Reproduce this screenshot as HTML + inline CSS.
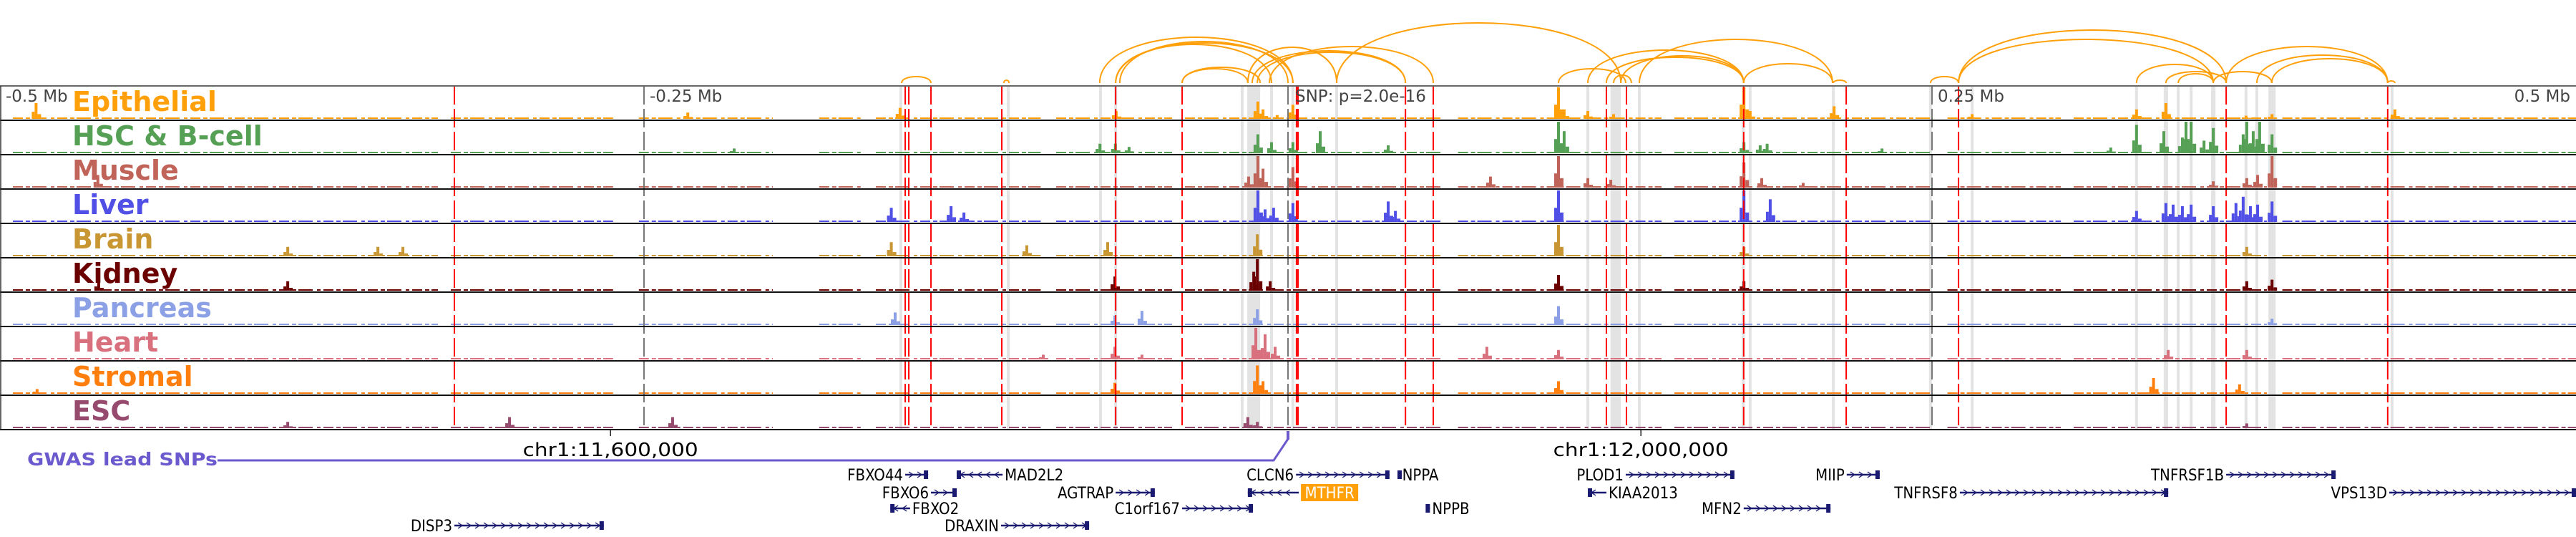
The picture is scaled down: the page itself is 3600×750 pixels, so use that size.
<!DOCTYPE html>
<html><head><meta charset="utf-8">
<style>
html,body{margin:0;padding:0;background:#fff;}
svg{display:block;}
text{font-family:"DejaVu Sans","Liberation Sans",sans-serif;}
</style></head>
<body>
<svg id="chart" width="3600" height="750" viewBox="0 0 3600 750" xmlns="http://www.w3.org/2000/svg">
<g id="bands"></g>
<g id="tracks"></g>
<g id="vlines"></g>
<g id="arcs"></g>
<g id="frame"></g>
<g id="labels"></g>
<g id="genes"></g>
</svg>
<script>
// ---- data (genomic offsets in kb relative to lead SNP) ----
const trackNames = ["Epithelial","HSC & B-cell","Muscle","Liver","Brain","Kidney","Pancreas","Heart","Stromal","ESC"];
const trackColors = ["#FFA00A","#55A055","#C0645A","#5050E6","#C89632","#6B0000","#8CA0E6","#D8707E","#FF7F0E","#964B6E"];
const tickValues = [-500,-250,0,250,500];
const tickLabels = ["-0.5 Mb","-0.25 Mb","","0.25 Mb","0.5 Mb"];
const snpLines = [-323.6,-148.6,-147.2,-138.6,-111.1,-66.9,-41.1,3.3,3.9,45.6,56.4,123.6,131.4,176.9,216.7,260.3,364.2,426.9];
const bandPos = [-150.3,-108.6,-72.8,-66.9,-17.8,-13.3,-6.4,1.9,18.9,116.4,127.2,136.4,176.7,179.4,211.7,249.4,265.6,329.4,340.8,345.6,350.6,359.2,371.9,376.1,382.0,428.6];
const bandWidthKb = [1.1,1.1,1.1,1.1,1.1,5,1.1,1.1,1.1,1.1,4,1.1,1.1,1.1,1.1,1.1,1.1,1.1,1.7,1.1,1.1,1.7,1.1,1.1,2.8,1.1];
const baseSegs = [[-495,-330],[-325,-262],[-252,-200],[-182,-165],[-160,-96],[-90,-45],[-40,60],[66,145],[150,250],[256,300],[305,380],[386,500]];
const peaksEpithelial = [[-486,.5],[-233,.2],[-150.6,.35],[-66.7,.25],[-11.7,.55],[-9.7,.3],[-4.2,.12],[1.9,.45],[105,1],[107.2,.3],[116.4,.25],[126.4,.15],[177,1],[179.4,.25],[212,.4],[265.6,.15],[329.4,.3],[340.8,.5],[371.9,.1],[382,.15],[429.7,.3]];
const peaksHSC = [[-215,.15],[-73,.3],[-67,.3],[-61.7,.2],[-11.7,.6],[-6.4,.35],[1.9,.35],[12.5,.7],[38.9,.25],[105,1],[107.2,.7],[177,.35],[183.3,.25],[186,.3],[230.6,.15],[319.4,.18],[329.4,.9],[340,.7],[347.2,.5],[348.6,1],[350.6,1],[355.6,.4],[359.2,.8],[370.8,.6],[372.2,1],[374.7,.7],[377.2,1],[382,.6]];
const peaksMuscle = [[-462,.4],[-15.3,.35],[-11.7,1],[-9.7,.6],[1.9,.65],[78.6,.35],[105,1],[116.4,.3],[125.3,.25],[177,.8],[183.9,.3],[200,.15],[359.2,.2],[372.2,.3],[376.4,.4],[382,1]];
const peaksLiver = [[-154,.45],[-130.8,.5],[-125.8,.3],[-11.7,1],[-8.9,.4],[-5.6,.45],[1.9,.6],[38.9,.65],[41.7,.35],[105,1],[177,1],[187.2,.72],[329.4,.35],[340.8,.6],[343.6,.55],[347.2,.5],[350.6,.55],[359.2,.5],[368,.6],[370.8,.8],[373.6,.5],[376.4,.55],[382,.65]];
const peaksBrain = [[-388.3,.3],[-353.3,.3],[-343.6,.3],[-154,.45],[-101.4,.35],[-70,.45],[-11.9,.7],[105,1],[177,.3],[372.2,.3]];
const peaksKidney = [[-461.7,.3],[-388.3,.3],[-67.2,.45],[-13.3,.6],[-11.9,1],[-6.9,.3],[105,.5],[177,.3],[372.2,.3],[382,.35]];
const peaksPancreas = [[-152.5,.4],[-67.2,.3],[-56.7,.45],[-11.9,.5],[105,.6],[382,.2]];
const peaksHeart = [[-95,.15],[-67.2,.4],[-56.7,.15],[-12.5,1],[-8.9,.8],[-5,.4],[77.2,.4],[105,.3],[341.7,.3],[372.2,.3]];
const peaksStromal = [[-485.6,.15],[-67.2,.35],[-11.9,.9],[-9.7,.4],[105,.4],[336,.5],[369.4,.3]];
const peaksESC = [[-388.3,.2],[-302.2,.35],[-238.9,.35],[-15.6,.35],[-11.9,.2],[372.2,.15]];
const arcStart = [-150,-110.3,-73.1,-66.9,-66.9,-65.3,-41.1,-41.1,-15.6,-13.9,-11.9,-7.2,18.9,105,116.4,123.6,129.2,136.4,176.9,126.4,249.4,260.3,260.3,329.4,340.8,345.6,359.2,364.2,376.1,381.9,211.7,426.9];
const arcEnd = [-138.6,-108.3,1.9,1.9,-6.4,0,-10.8,-15.6,18.9,45.6,45.6,56.4,129.2,131.1,176.9,176.9,176.9,211.4,211.4,133.3,260.3,364.2,359.2,359.2,364.2,359.2,381.9,426.9,426.9,426.9,216.7,429.7];
const arcHeight = [9,4,64,56,54,58,22,20,50,45,43,51,84,20,46,36,38,61,27,11,9,74,61,26,16,13,16,51,39,34,4,3];
const geneNames = ["FBXO44","MAD2L2","FBXO6","AGTRAP","FBXO2","C1orf167","DISP3","DRAXIN","CLCN6","NPPA","MTHFR","NPPB","PLOD1","KIAA2013","MFN2","MIIP","TNFRSF8","TNFRSF1B","VPS13D"];
const geneStart = [-148.6,-128.6,-138.6,-66.9,-154.4,-41.1,-323.6,-111.4,3.1,42.5,-15.6,54.3,131.1,116.4,176.9,216.9,260.8,364.2,427.5];
const geneEnd = [-139.7,-110.8,-128.6,-51.7,-146.7,-13.6,-265.6,-77.2,39.4,43.5,4.2,55.1,173.3,123.6,210.6,229.7,341.7,406.7,500];
const geneStrand = [1,-1,1,1,-1,1,1,1,1,-1,-1,1,1,-1,1,1,1,1,1];
const geneRow = [0,0,1,1,2,2,3,3,0,0,1,2,0,1,2,0,1,0,1];
const geneLabelLeft = [1,0,1,1,0,1,1,1,1,0,0,0,1,0,1,1,1,1,1];
const chrLabels = ["chr1:11,600,000","chr1:12,000,000"];
const chrPos = [-263,137];
const leadSnp = 0;

// ---- scales ----
const NS="http://www.w3.org/2000/svg";
const X = kb => 1800 + kb*3.6;
const TOP=120, TH=48;
function mk(tag, attrs, parent){const e=document.createElementNS(NS,tag);for(const k in attrs)e.setAttribute(k,attrs[k]);parent.appendChild(e);return e;}
const gBands=document.getElementById('bands'), gTracks=document.getElementById('tracks'),
 gV=document.getElementById('vlines'), gArcs=document.getElementById('arcs'),
 gFrame=document.getElementById('frame'), gLab=document.getElementById('labels'), gGenes=document.getElementById('genes');

bandPos.forEach((p,i)=>{
  const w=Math.max(4,bandWidthKb[i]*3.6);
  const r=mk('rect',{x:X(p)-w/2,y:TOP,width:w,height:TH*10,fill:'#e3e3e3'},gBands);
  
  
});

const allPeaks=[peaksEpithelial,peaksHSC,peaksMuscle,peaksLiver,peaksBrain,peaksKidney,peaksPancreas,peaksHeart,peaksStromal,peaksESC];
allPeaks.forEach((peaks,t)=>{
  const g=mk('g',{fill:trackColors[t]},gTracks);
  
  
  const base=TOP+TH*t+46;
  baseSegs.forEach(s=>{
    const l=mk('line',{x1:X(s[0]),x2:X(s[1]),y1:base-1,y2:base-1,stroke:trackColors[t],'stroke-width':2,'stroke-dasharray':'14,4,6,3,20,6,5,4'},g);
    
    
  });
  peaks.forEach(p=>{
    const h=p[1]*44;
    const r=mk('rect',{x:X(p[0])-2,y:base-h,width:4,height:h},g);
    
    
    const s=mk('rect',{x:X(p[0])-6,y:base-h*0.45,width:4,height:h*0.45},g);
    
    
    const s2=mk('rect',{x:X(p[0])+2,y:base-h*0.3,width:5,height:h*0.3},g);
    
    
  });
});

tickValues.forEach((v,i)=>{
  if(v===-500||v===500)return;
  const l=mk('line',{x1:X(v),x2:X(v),y1:TOP,y2:TOP+TH*10,stroke:'#777','stroke-width':2,'stroke-dasharray':'26,6'},gV);
  
  
});
snpLines.forEach(p=>{
  const l=mk('line',{x1:X(p),x2:X(p),y1:TOP,y2:TOP+TH*10,stroke:'#ff0000','stroke-width':2,'stroke-dasharray':'26,6'},gV);
  
  
});

arcStart.forEach((s,i)=>{
  const x1=X(s),x2=X(arcEnd[i]),c=116-arcHeight[i]*4/3;
  const p=mk('path',{d:`M${x1},116 C${x1},${c} ${x2},${c} ${x2},116`,fill:'none',stroke:'#FFA00A','stroke-width':2},gArcs);
  
  
});

for(let i=0;i<=10;i++){
  const l=mk('line',{x1:0,x2:3600,y1:TOP+TH*i,y2:TOP+TH*i,stroke:i===0?'#666':'#111','stroke-width':2},gFrame);
  
  
}
const lb=mk('line',{x1:1,x2:1,y1:TOP,y2:TOP+TH*10,stroke:'#333','stroke-width':1.5},gFrame);



tickValues.forEach((v,i)=>{
  if(!tickLabels[i])return;
  let x=X(v)+8, anchor='start';
  if(v===-500){x=8;}
  if(v===500){x=3592;anchor='end';}
  const t=mk('text',{x:x,y:TOP+22,'font-size':23,fill:'#444','text-anchor':anchor},gLab);
  t.textContent=tickLabels[i];
  
  
});
const snpT=mk('text',{x:X(leadSnp)+10,y:TOP+22,'font-size':23,fill:'#444'},gLab);
snpT.textContent='SNP: p=2.0e-16';



trackNames.forEach((n,i)=>{
  const t=mk('text',{x:101,y:TOP+TH*i+35,'font-size':38,'font-weight':'bold',fill:trackColors[i]},gLab);
  t.textContent=n;
  
  
});

const gw=mk('text',{x:38,y:650,'font-size':25,'font-weight':'bold',fill:'#6A5ACD',textLength:266,lengthAdjust:'spacingAndGlyphs'},gGenes);
gw.textContent='GWAS lead SNPs';


const gl=mk('polyline',{points:`304,643 ${X(leadSnp)-20},643 ${X(leadSnp)},613`,fill:'none',stroke:'#6A5ACD','stroke-width':3},gGenes);


const gm=mk('rect',{x:X(leadSnp)-2,y:602,width:4,height:12,fill:'#6A5ACD'},gGenes);



chrLabels.forEach((c,i)=>{
  const tk=mk('line',{x1:X(chrPos[i]),x2:X(chrPos[i]),y1:600,y2:609,stroke:'#222','stroke-width':1.5},gGenes);
  
  
  const t=mk('text',{x:X(chrPos[i]),y:637,'font-size':26,fill:'#000','text-anchor':'middle',textLength:245,lengthAdjust:'spacingAndGlyphs'},gGenes);
  t.textContent=c;
  
  
});

const rowY=[663,688,710,734];
geneNames.forEach((n,i)=>{
  const g=mk('g',{},gGenes);
  
  
  const x1=X(geneStart[i]),x2=X(geneEnd[i]),y=rowY[geneRow[i]];
  mk('line',{x1:x1,x2:x2,y1:y,y2:y,stroke:'#1a1a70','stroke-width':2.5},g);
  const dir=geneStrand[i];
  for(let x=x1+8;x<x2-6;x+=12){
    mk('polyline',{points:`${x-3*dir},${y-4} ${x+3*dir},${y} ${x-3*dir},${y+4}`,fill:'none',stroke:'#1a1a70','stroke-width':1.3},g);
  }
  const ex = dir>0 ? x2-6 : x1;
  mk('rect',{x:ex,y:y-6,width:6,height:12,fill:'#1a1a70'},g);
  const left=geneLabelLeft[i];
  const tx= left? x1-3 : x2+3;
  if(n==='MTHFR'){
    mk('rect',{x:x2+3,y:y-12,width:80,height:24,fill:'#FFA00A'},g);
  }
  const t=mk('text',{x:n==='MTHFR'?x2+43:tx,y:y+8,'font-size':22,fill:n==='MTHFR'?'#fff':'#000','text-anchor':n==='MTHFR'?'middle':(left?'end':'start'),style:'font-family:"DejaVu Sans Condensed","DejaVu Sans",sans-serif'},g);
  t.textContent=n;
});
</script>
</body></html>
